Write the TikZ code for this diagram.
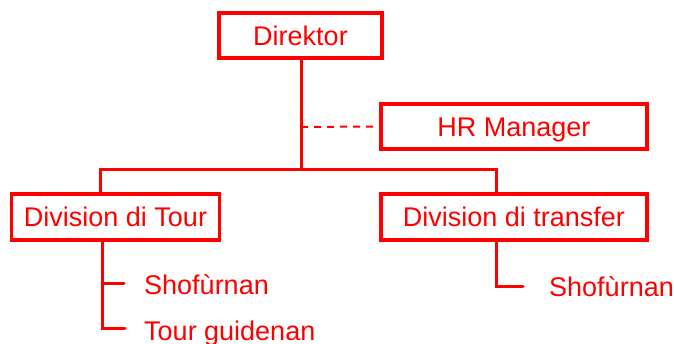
\documentclass[tikz,border=0pt]{standalone}
\usepackage{fontspec}
\setmainfont{Liberation Sans}
\definecolor{orgred}{RGB}{255,0,0}
\begin{document}
\begin{tikzpicture}[x=1pt,y=-1pt,
  every node/.style={text=orgred,font=\fontsize{27}{31}\selectfont},
  unitbox/.style={draw=orgred,line width=3.6pt,inner sep=0pt,text height=19.5pt,text depth=0pt},
  link/.style={draw=orgred,line width=3pt},
  sublink/.style={draw=orgred,line width=3pt,line cap=round},
  dotted link/.style={draw=orgred,line width=2pt,dash pattern=on 7pt off 6pt},
  leaf/.style={inner sep=0pt,anchor=base west}]
\useasboundingbox (0,0) rectangle (674,344);
\node[unitbox,minimum width=163pt,minimum height=45pt] (dir) at (300.5,35.5) {Direktor};
\node[unitbox,minimum width=266pt,minimum height=45pt] (hr) at (514,126.5) {HR Manager};
\node[unitbox,minimum width=208pt,minimum height=46pt] (tour) at (115.5,217) {Division di Tour};
\node[unitbox,minimum width=266pt,minimum height=46pt] (tr) at (514,217) {Division di transfer};
\node[leaf] (s1) at (144,295) {Shofùrnan};
\node[leaf] (g1) at (144,340) {Tour guidenan};
\node[leaf] (s2) at (549,297) {Shofùrnan};
\coordinate (j) at (301,170);
\coordinate (jd) at (301,127);
\coordinate (jl) at (100,170);
\coordinate (jr) at (496,170);
\coordinate (tl) at (102,240);
\coordinate (b1) at (124,284);
\coordinate (b2) at (125,328);
\coordinate (rl) at (496,240);
\coordinate (b3) at (523,287);
\draw[link] (dir.south -| j) -- (j);
\draw[dotted link] (jd) -- (hr.west);
\draw[link] (jl |- tour.north) -- (jl) -- (jr) -- (jr |- tr.north);
\draw[sublink] (tl |- tour.south) -- (tl |- b2) -- (b2);
\draw[sublink] (tl |- b1) -- (b1);
\draw[sublink] (rl |- tr.south) -- (rl |- b3) -- (b3);
\end{tikzpicture}
\end{document}
